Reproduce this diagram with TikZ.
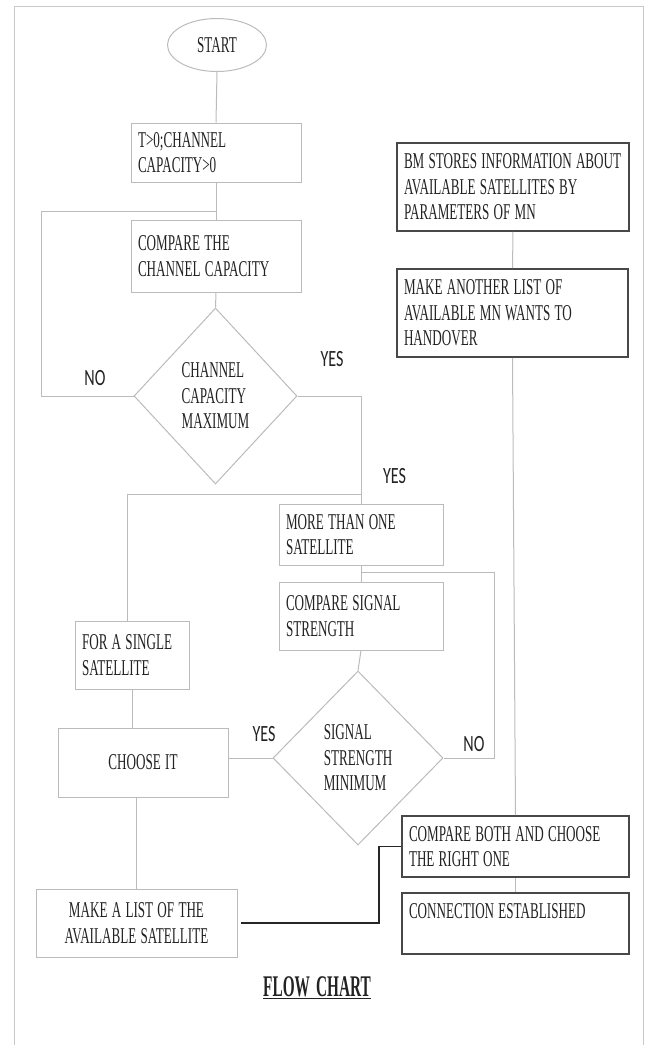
\documentclass[tikz,border=0pt]{standalone}
\usepackage{fontspec}
\setmainfont{Liberation Serif}[FakeStretch=0.58, WordSpace=1.3]
\newfontfamily\lblfont{Carlito}[FakeStretch=0.69]
\newfontfamily\ttlfont{Liberation Serif}[FakeStretch=0.51, WordSpace=1.6]
\usetikzlibrary{shapes.geometric}
\usetikzlibrary{calc}
\definecolor{lgray}{HTML}{BBBBBB}
\definecolor{dgray}{HTML}{484848}
\definecolor{txt}{HTML}{222222}

\begin{document}
\begin{tikzpicture}[x=1pt,y=-1pt,box/.style={rectangle, draw=lgray, line width=1pt, inner xsep=7pt, inner ysep=0pt, align=left, text=txt, font=\fontsize{22.6}{25.5}\selectfont, execute at begin node={\spaceskip=0pt\xspaceskip=0pt}}]
    \tikzset{dbox/.style={box, draw=dgray, line width=1.6pt}}
    \tikzset{dec/.style={diamond, draw=lgray, line width=1pt, inner sep=0pt, align=left, text=txt, font=\fontsize{22.6}{25.5}\selectfont},
    line/.style={draw=lgray, line width=1pt}, dline/.style={draw=black!85, line width=1.6pt}}
    \tikzset{lbl/.style={text=txt, inner sep=0pt, font=\lblfont\fontsize{23.3}{25}\selectfont}}
    \useasboundingbox (0,0) rectangle (647,1045);
    \draw[draw=lgray!80, line width=1pt] (14,1045) -- (14,6) -- (643,6) -- (643,1045);

    % left column
    \node[ellipse, draw=lgray, line width=1pt, minimum width=99pt, minimum height=53pt, text=txt, font=\fontsize{22.6}{25.5}\selectfont] (start) at (217,45) {START};
    \node[box, text width=156pt, minimum height=59pt] (b1) at (216,152.5) {T>0;CHANNEL\\CAPACITY>0};
    \node[box, text width=156pt, minimum height=72pt] (b2) at (216,256) {COMPARE THE\\CHANNEL CAPACITY};
    \node[dec, minimum width=163pt, minimum height=176pt] (d1) at (215.5,396) {CHANNEL\\CAPACITY\\MAXIMUM};
    \node[box, text width=150pt, minimum height=61pt] (b5) at (361,534.5) {MORE THAN ONE\\SATELLITE};
    \node[box, text width=150pt, minimum height=68pt] (b6) at (361,616) {COMPARE SIGNAL\\STRENGTH};
    \node[dec, minimum width=170pt, minimum height=174pt] (d2) at (358,758) {SIGNAL\\STRENGTH\\MINIMUM};
    \node[box, text width=100pt, minimum height=68pt] (b7) at (132,655) {FOR A SINGLE\\SATELLITE};
    \node[box, align=center, minimum width=170pt, minimum height=69pt] (b8) at (143,762.5) {CHOOSE IT};
    \node[box, align=center, minimum width=201pt, minimum height=68pt] (b9) at (136.5,923) {MAKE A LIST OF THE\\AVAILABLE SATELLITE};

    % right column
    \node[dbox, text width=218pt, minimum height=88pt] (b3) at (513,187) {BM STORES INFORMATION ABOUT\\AVAILABLE SATELLITES BY\\PARAMETERS OF MN};
    \node[dbox, text width=217pt, minimum height=88pt] (b4) at (512.5,313) {MAKE ANOTHER LIST OF\\AVAILABLE MN WANTS TO\\HANDOVER};
    \node[dbox, text width=213pt, minimum height=61pt] (b10) at (515.5,846.5) {COMPARE BOTH AND CHOOSE\\THE RIGHT ONE};
    \node[dbox, text width=213pt, minimum height=61pt] (b11) at (515.5,923.5) {CONNECTION ESTABLISHED\\\mbox{}};

    \coordinate (c1) at (41.5,211);
    \coordinate (c2) at (361,494);
    \coordinate (c3) at (127,494);
    \coordinate (c4) at (361,572);
    \coordinate (c5) at (494,572);
    \coordinate (c6) at (379,923);

    \draw[line] (start.south) -- (b1.north);
    \draw[line] (b1) -- (b2);
    \draw[line] (b2.south) -- (d1.north);
    \draw[line] (d1.west) -| (c1) -- (c1 -| b2.north);
    \draw[line] (d1.east) -| (b5.north);
    \draw[line] (c2) -- (c3) -- (c3 |- b7.north);
    \draw[line] (b5) -- (b6);
    \draw[line] (c4) -- (c5) |- (d2.east);
    \draw[line] (b6.south) -- (d2.north);
    \draw[line] (d2.west) -- (d2.west -| b8.east);
    \draw[line] (b7.south) -- (b7.south |- b8.north);
    \draw[line] (b9.north |- b8.south) -- (b9.north);
    \draw[dline] ($(b9.east)+(3,0)$) -- (c6) |- (b10.west);
    \draw[line] (b3) -- (b4);
    \draw[line] (b4.south) -- (b10.north);
    \draw[line] (b10) -- (b11);

    \node[lbl] (no1) at (95,378) {NO};
    \node[lbl] (yes1) at (332,359) {YES};
    \node[lbl] (yes2) at (394.5,476) {YES};
    \node[lbl] (yes3) at (264,734.5) {YES};
    \node[lbl] (no2) at (474,744) {NO};

    \node[text=txt, font=\ttlfont\bfseries\fontsize{30}{32}\selectfont] (ttl) at (317,988) {\underline{FLOW CHART}};
\end{tikzpicture}
\end{document}
